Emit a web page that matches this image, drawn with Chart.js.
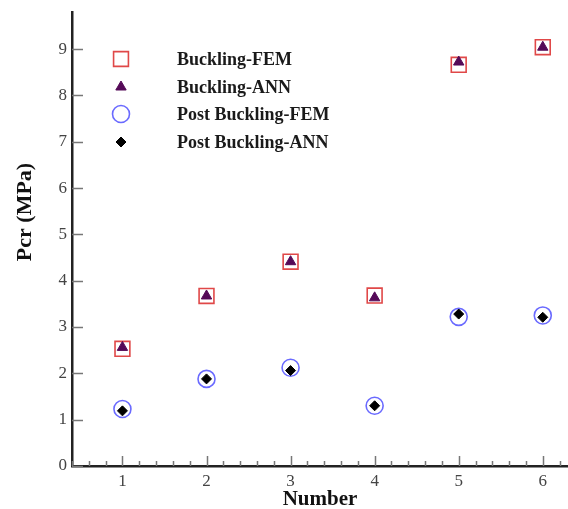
<!DOCTYPE html>
<html>
<head>
<meta charset="utf-8">
<script src="https://cdn.jsdelivr.net/npm/chart.js@4/dist/chart.umd.min.js"></script>
<style>
  html, body { margin: 0; padding: 0; background: #fff; }
  #wrap { width: 568px; height: 509px; }
</style>
</head>
<body>
<div id="wrap"><canvas id="pcrChart" width="568" height="509"></canvas></div>
<script>
// ── data ──
const sampleNumbers = [1, 2, 3, 4, 5, 6];
const bucklingFEM = [2.53, 3.67, 4.41, 3.68, 8.66, 9.04];
const bucklingANN = [2.56, 3.67, 4.41, 3.63, 8.72, 9.04];
const postBucklingFEM = [1.23, 1.88, 2.12, 1.30, 3.22, 3.25];
const postBucklingANN = [1.19, 1.88, 2.06, 1.30, 3.28, 3.21];
const xTickValues = [1, 2, 3, 4, 5, 6];
const yTickValues = [0, 1, 2, 3, 4, 5, 6, 7, 8, 9];
const yTitle = 'Pcr (MPa)';

const SERIF = '"Liberation Serif", "Times New Roman", serif';
const toPoints = vals => sampleNumbers.map((n, i) => ({ x: n, y: vals[i] }));

// ── inward ticks (major + minor) ──
const innerTicks = {
  id: 'innerTicks',
  afterDraw(chart) {
    const { ctx, chartArea: a, scales: { x, y } } = chart;
    ctx.save();
    ctx.strokeStyle = '#777';
    ctx.lineWidth = 1.5;
    ctx.beginPath();
    for (let v = 0.4; v <= 6.3 + 1e-9; v += 0.2) {
      const px = Math.round(x.getPixelForValue(v)) + 0.5;
      const major = Math.abs(v - Math.round(v)) < 1e-6;
      ctx.moveTo(px, a.bottom);
      ctx.lineTo(px, a.bottom - (major ? 10 : 5));
    }
    yTickValues.forEach(v => {
      const py = Math.round(y.getPixelForValue(v)) + 0.5;
      ctx.moveTo(a.left, py);
      ctx.lineTo(a.left + 11, py);
    });
    ctx.stroke();

    // y axis title, sits a bit above the middle in the original
    ctx.translate(25, 212);
    ctx.rotate(-Math.PI / 2);
    ctx.fillStyle = '#111';
    ctx.font = 'bold 22px ' + SERIF;
    ctx.textAlign = 'center';
    ctx.textBaseline = 'middle';
    ctx.fillText(yTitle, 0, 0);
    ctx.restore();
  }
};

// ── legend drawn inside the plot ──
const insideLegend = {
  id: 'insideLegend',
  afterDraw(chart) {
    const { ctx } = chart;
    const rows = [59, 87, 114, 142];
    ctx.save();
    chart.data.datasets.forEach((ds, i) => {
      const yy = rows[i];
      ctx.fillStyle = ds.pointBackgroundColor;
      ctx.strokeStyle = ds.pointBorderColor;
      ctx.lineWidth = ds.pointBorderWidth;
      Chart.helpers.drawPoint(ctx, {
        pointStyle: ds.pointStyle,
        radius: ds.pointRadius,
        borderWidth: ds.pointBorderWidth,
        rotation: 0
      }, 121, yy);
      ctx.fillStyle = '#1a1a1a';
      ctx.font = 'bold 18px ' + SERIF;
      ctx.textBaseline = 'middle';
      ctx.textAlign = 'left';
      ctx.fillText(ds.label, 177, yy + 1);
    });
    ctx.restore();
  }
};

new Chart(document.getElementById('pcrChart'), {
  type: 'scatter',
  data: {
    datasets: [
      {
        label: 'Buckling-FEM',
        data: toPoints(bucklingFEM),
        pointStyle: 'rect',
        pointRadius: 10.5,
        pointBackgroundColor: 'rgba(0,0,0,0)',
        pointBorderColor: '#e04848',
        pointBorderWidth: 1.6,
        order: 2
      },
      {
        label: 'Buckling-ANN',
        data: toPoints(bucklingANN),
        pointStyle: 'triangle',
        pointRadius: 6,
        pointBackgroundColor: '#550a58',
        pointBorderColor: '#550a58',
        pointBorderWidth: 1,
        order: 1
      },
      {
        label: 'Post Buckling-FEM',
        data: toPoints(postBucklingFEM),
        pointStyle: 'circle',
        pointRadius: 8.5,
        pointBackgroundColor: 'rgba(0,0,0,0)',
        pointBorderColor: '#6a6aff',
        pointBorderWidth: 1.6,
        order: 2
      },
      {
        label: 'Post Buckling-ANN',
        data: toPoints(postBucklingANN),
        pointStyle: 'rectRot',
        pointRadius: 5,
        pointBackgroundColor: '#000',
        pointBorderColor: '#000',
        pointBorderWidth: 1,
        order: 1
      }
    ]
  },
  options: {
    responsive: false,
    animation: false,
    layout: { autoPadding: false, padding: { top: 12, right: 0, left: 0, bottom: 0 } },
    plugins: {
      legend: { display: false },
      tooltip: { enabled: false }
    },
    scales: {
      x: {
        type: 'linear',
        min: 0.4,
        max: 6.3,
        afterBuildTicks: s => { s.ticks = xTickValues.map(v => ({ value: v })); },
        afterFit: s => {
          s.height = 43;
          s.paddingLeft = 0;
          s.paddingRight = 0;
        },
        grid: { display: false, drawTicks: false },
        border: { display: true, color: '#222', width: 2.5 },
        ticks: { color: '#444', padding: 5, font: { family: SERIF, size: 17 } },
        title: {
          display: true,
          text: 'Number',
          color: '#111',
          padding: { top: 0, bottom: -3 },
          font: { family: SERIF, size: 21, weight: 'bold' }
        }
      },
      y: {
        type: 'linear',
        min: 0,
        max: 9.8,
        afterBuildTicks: s => { s.ticks = yTickValues.map(v => ({ value: v })); },
        afterFit: s => {
          s.width = 72;
          s.paddingTop = 0;
          s.paddingBottom = 0;
        },
        grid: { display: false, drawTicks: false },
        border: { display: true, color: '#222', width: 2.5 },
        ticks: { color: '#444', padding: 5, font: { family: SERIF, size: 17 } }
      }
    }
  },
  plugins: [innerTicks, insideLegend]
});
</script>
</body>
</html>
